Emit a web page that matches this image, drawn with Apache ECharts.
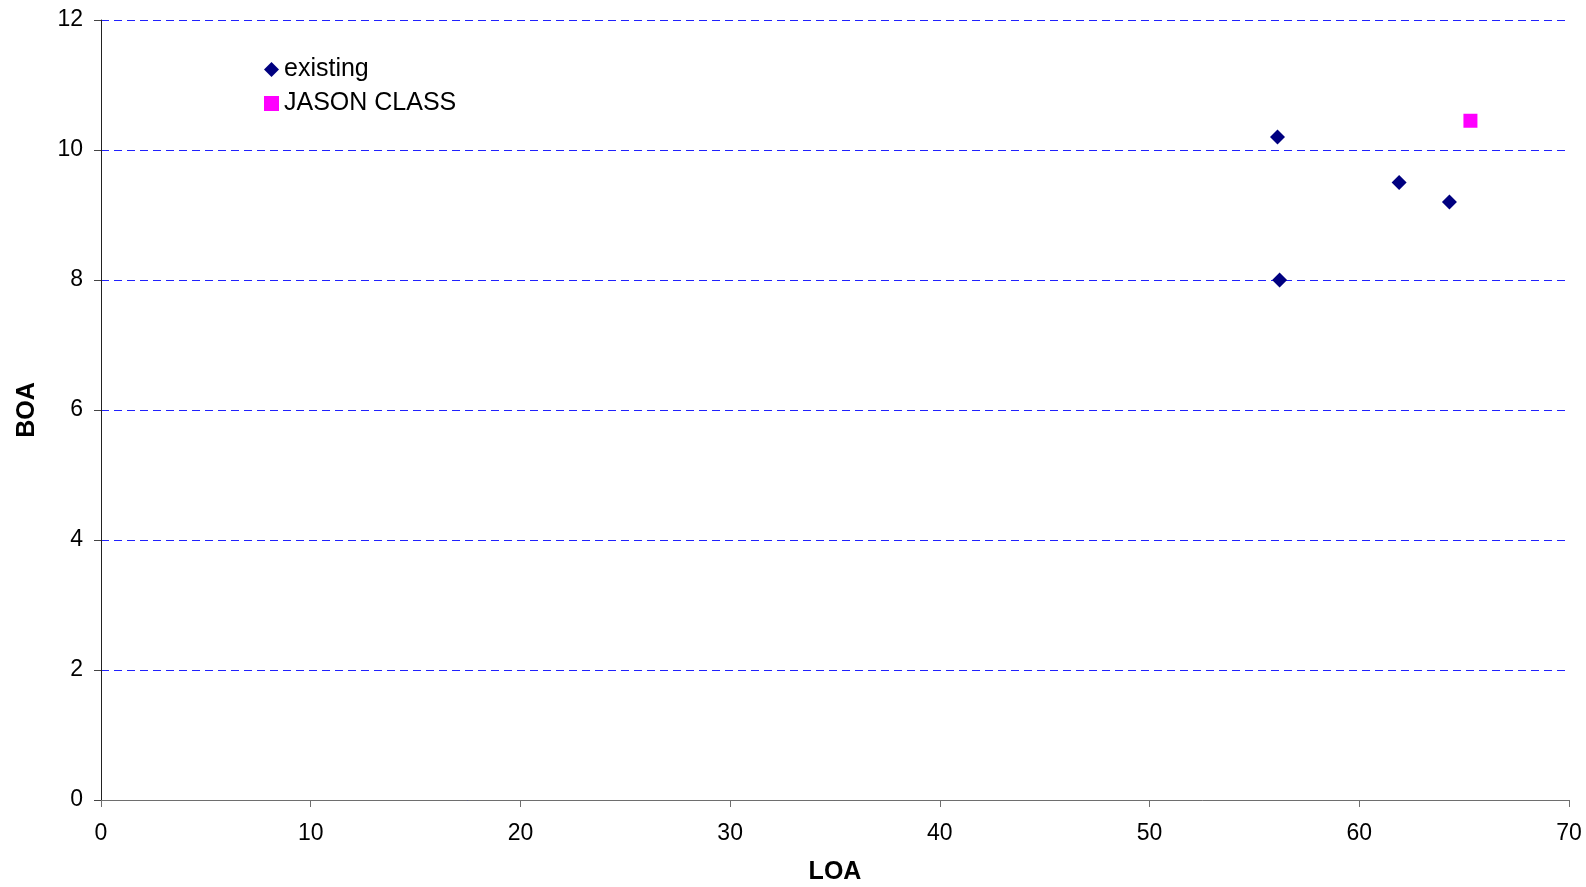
<!DOCTYPE html>
<html>
<head>
<meta charset="utf-8">
<script src="https://cdn.jsdelivr.net/npm/echarts@6/dist/echarts.min.js"></script>
<style>
  html, body { margin: 0; padding: 0; background: #fff; }
  #chart { width: 1586px; height: 887px; }
</style>
</head>
<body>
<div id="chart"></div>
<script>
// Vessel dimensions: length overall (LOA) vs beam overall (BOA)
const existingLOA = [56.1, 61.9, 64.3, 56.2];
const existingBOA = [10.2, 9.5, 9.2, 8.0];
const jasonLOA = [65.3];
const jasonBOA = [10.45];
const seriesNames = ['existing', 'JASON CLASS'];
const xTicks = { min: 0, max: 70, interval: 10 };
const yTicks = { min: 0, max: 12, interval: 2 };

const pairs = (xs, ys) => xs.map((x, i) => [x, ys[i]]);
const font = 'Liberation Sans, Arial, sans-serif';

const chart = echarts.init(document.getElementById('chart'), null, { renderer: 'canvas' });
chart.setOption({
  animation: false,
  backgroundColor: '#ffffff',
  textStyle: { fontFamily: font },
  grid: { left: 101, right: 17, top: 20, bottom: 87, containLabel: false, outerBoundsMode: 'none' },
  legend: {
    orient: 'vertical',
    left: 259,
    top: 52,
    itemGap: 9,
    itemWidth: 15,
    itemHeight: 15,
    textStyle: { fontSize: 25, color: '#000', fontFamily: font },
    data: [
      { name: seriesNames[0], icon: 'diamond' },
      { name: seriesNames[1], icon: 'rect' }
    ]
  },
  xAxis: {
    type: 'value',
    min: xTicks.min, max: xTicks.max, interval: xTicks.interval,
    name: 'LOA',
    nameLocation: 'middle',
    nameGap: 60,
    nameTextStyle: { fontSize: 25, fontWeight: 'bold', color: '#000', fontFamily: font },
    axisLine: { show: true, lineStyle: { color: '#6e6e6e', width: 1 } },
    axisTick: { show: true, inside: false, length: 7, lineStyle: { color: '#6e6e6e' } },
    axisLabel: { fontSize: 23, color: '#000', margin: 22, fontFamily: font },
    splitLine: { show: false }
  },
  yAxis: {
    type: 'value',
    min: yTicks.min, max: yTicks.max, interval: yTicks.interval,
    name: 'BOA',
    nameLocation: 'middle',
    nameGap: 61,
    nameRotate: 90,
    nameTextStyle: { fontSize: 25, fontWeight: 'bold', color: '#000', fontFamily: font },
    axisLine: { show: true, lineStyle: { color: '#222', width: 1 } },
    axisTick: { show: true, inside: false, length: 7, lineStyle: { color: '#444' } },
    axisLabel: { fontSize: 23, color: '#000', margin: 18, fontFamily: font },
    splitLine: { show: true, lineStyle: { color: '#2020ff', type: [8, 5], width: 1 } }
  },
  series: [
    {
      name: seriesNames[0],
      type: 'scatter',
      symbol: 'diamond',
      symbolSize: 15,
      itemStyle: { color: '#000080', opacity: 1 },
      data: pairs(existingLOA, existingBOA)
    },
    {
      name: seriesNames[1],
      type: 'scatter',
      symbol: 'rect',
      symbolSize: 14,
      itemStyle: { color: '#ff00ff', opacity: 1 },
      data: pairs(jasonLOA, jasonBOA)
    }
  ]
});
</script>
</body>
</html>
